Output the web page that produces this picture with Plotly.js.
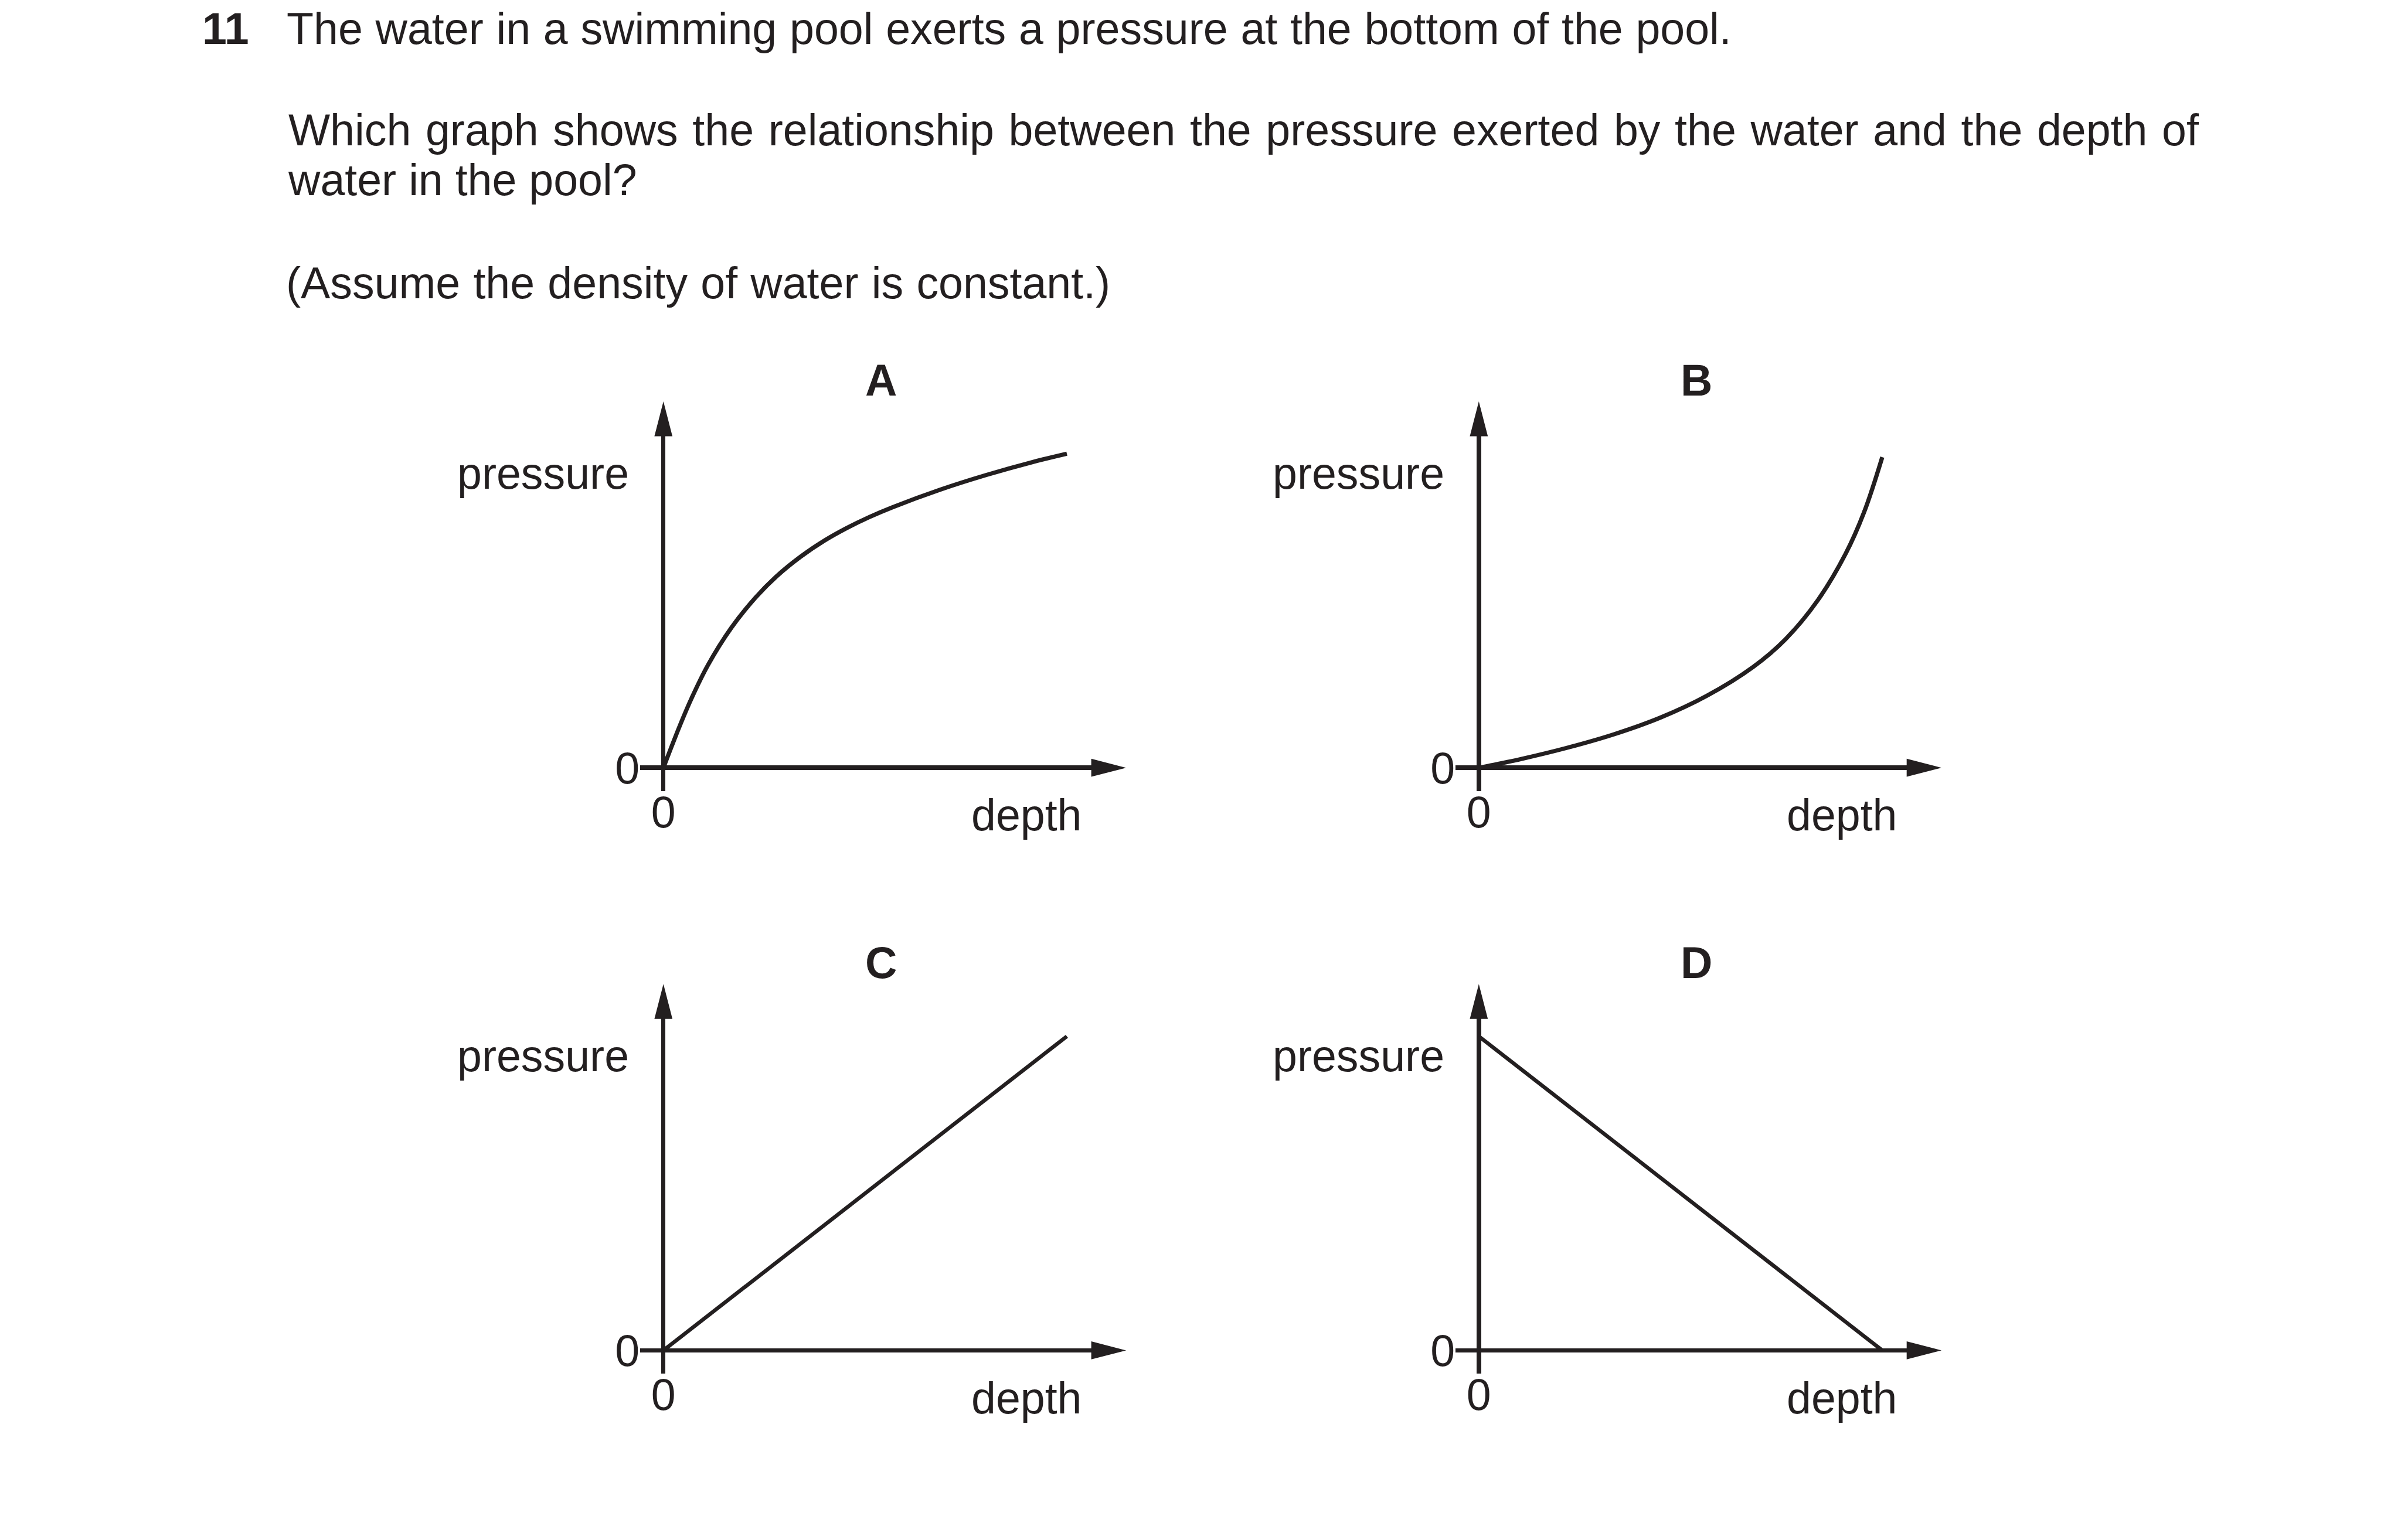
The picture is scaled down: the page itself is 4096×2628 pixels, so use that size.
<!DOCTYPE html>
<html><head><meta charset="utf-8">
<script src="https://cdn.plot.ly/plotly-3.0.1.min.js"></script>
<style>
html,body{margin:0;padding:0;background:#fff;overflow:hidden}
#chart{width:4096px;height:2628px}
g.annotation[data-index="1"] text{word-spacing:0.8px}
g.annotation[data-index="2"] text{word-spacing:3.7px}
g.annotation[data-index="4"] text{word-spacing:1.3px}
</style>
</head><body><div id="chart"></div>
<script>
// ---- content ----
const questionNumber = '11';
const questionLines = [
  'The water in a swimming pool exerts a pressure at the bottom of the pool.',
  'Which graph shows the relationship between the pressure exerted by the water and the depth of',
  'water in the pool?',
  '(Assume the density of water is constant.)'
];
const panelLabels = ['A', 'B', 'C', 'D'];
const xAxisLabel = 'depth';
const yAxisLabel = 'pressure';
const tickLabels = ['0'];

// ---- data (normalised depth / pressure) ----
const depthA    = [0, 0.041, 0.070, 0.110, 0.168, 0.225, 0.280, 0.340, 0.400, 0.454, 0.510, 0.569, 0.685, 0.800, 0.914, 1];
const pressureA = [0, 0.135, 0.222, 0.326, 0.445, 0.537, 0.609, 0.672, 0.724, 0.763, 0.798, 0.830, 0.885, 0.932, 0.973, 1];
const depthB    = [0, 0.105, 0.220, 0.336, 0.449, 0.565, 0.680, 0.760, 0.840, 0.909, 0.955, 1];
const pressureB = [0, 0.028, 0.064, 0.107, 0.159, 0.229, 0.321, 0.409, 0.533, 0.681, 0.814, 0.989];
const depthC    = [0, 1];
const pressureC = [0, 1];
const depthD    = [0, 1];
const pressureD = [1, 0];

// ---- geometry (reference pixels) ----
const W = 4096, H = 2628, S = 4096 / 4132;
const INK = '#231f20';
const FONT = '"Liberation Sans", Arial, Helvetica, sans-serif';
const FS = 76;             // text size
const AXW = 7.5;           // axis line width
const UX = 694.3, UY = 540.7;  // px per data unit
const ORIGIN = {x: 1141.7, y: 1321.7};
const OFFS = [{dx: 0, dy: 0}, {dx: 1403.3, dy: 0}, {dx: 0, dy: 1003}, {dx: 1403.3, dy: 1003}];
const XEXT_L = 40, XTIP = 796.3, YEXT_B = 40, YTIP = 630.7;
const AL = 60, AW = 15.5;

const pX = X => X * S / W;
const pY = Y => 1 - Y * S / H;

const series = [[depthA, pressureA, 7.3], [depthB, pressureB, 7.3], [depthC, pressureC, 6.6], [depthD, pressureD, 6.6]];

const data = [];
const layout = {
  width: W, height: H, margin: {l: 0, r: 0, t: 0, b: 0, pad: 0},
  paper_bgcolor: '#fff', plot_bgcolor: 'rgba(0,0,0,0)', showlegend: false,
  font: {family: FONT, color: INK, size: FS * S},
  annotations: [], shapes: []
};

function ann(text, X, baseline, xanchor, bold) {
  const fs = FS * S;
  layout.annotations.push({
    text: bold ? '<b>' + text + '</b>' : text,
    xref: 'paper', yref: 'paper',
    x: pX(X), y: pY(baseline - 0.3465 * FS),
    xanchor: xanchor, yanchor: 'middle', showarrow: false, align: xanchor,
    font: {family: FONT, size: fs, color: INK}, borderpad: 0
  });
}

// question text
ann(questionNumber, 347, 76, 'left', true);
const lineBase = [76, 250, 336, 514];
const lineLeft = [492, 495, 494, 491];
questionLines.forEach((t, i) => ann(t, lineLeft[i], lineBase[i], 'left', false));

OFFS.forEach((o, i) => {
  const ox = ORIGIN.x + o.dx, oy = ORIGIN.y + o.dy;
  const n = i === 0 ? '' : String(i + 1);
  const xa = 'xaxis' + n, ya = 'yaxis' + n;
  const xL = ox - XEXT_L, xR = ox + XTIP - 30;
  const yB = oy + YEXT_B, yT = oy - YTIP + 30;
  const common = {
    showgrid: false, zeroline: true, zerolinecolor: INK, zerolinewidth: AXW * S,
    showline: false, ticks: '', tickmode: 'array', tickvals: [0], ticktext: [tickLabels[0]],
    tickfont: {family: FONT, size: FS * S, color: INK}, fixedrange: true, type: 'linear'
  };
  layout[xa] = Object.assign({}, common, {
    domain: [pX(xL), pX(xR)], range: [-XEXT_L / UX, (XTIP - 30) / UX], anchor: 'y' + n,
    ticklabelstandoff: -14
  });
  layout[ya] = Object.assign({}, common, {
    domain: [pY(yB), pY(yT)], range: [-YEXT_B / UY, (YTIP - 30) / UY], anchor: 'x' + n,
    ticklabelstandoff: 0
  });
  data.push({
    type: 'scatter', mode: 'lines', x: series[i][0], y: series[i][1],
    xaxis: 'x' + n, yaxis: 'y' + n, hoverinfo: 'skip',
    line: {color: INK, width: series[i][2] * S, shape: 'spline', smoothing: 1}
  });
  // arrowheads
  layout.shapes.push({
    type: 'path', xref: 'paper', yref: 'paper', xsizemode: 'pixel', ysizemode: 'pixel',
    xanchor: pX(ox + XTIP), yanchor: pY(oy),
    path: `M0,0L${-AL * S},${AW * S}L${-AL * S},${-AW * S}Z`,
    fillcolor: INK, line: {width: 0}, layer: 'above'
  });
  layout.shapes.push({
    type: 'path', xref: 'paper', yref: 'paper', xsizemode: 'pixel', ysizemode: 'pixel',
    xanchor: pX(ox), yanchor: pY(oy - YTIP),
    path: `M0,0L${-AW * S},${-AL * S}L${AW * S},${-AL * S}Z`,
    fillcolor: INK, line: {width: 0}, layer: 'above'
  });
  // labels
  ann(panelLabels[i], 1516 + o.dx, 681 + o.dy, 'center', true);
  ann(yAxisLabel, 1083 + o.dx, 841 + o.dy, 'right', false);
  ann(xAxisLabel, 1863 + o.dx, 1430 + o.dy, 'right', false);
});

Plotly.newPlot('chart', data, layout, {staticPlot: true, displayModeBar: false});
</script>
</body></html>
